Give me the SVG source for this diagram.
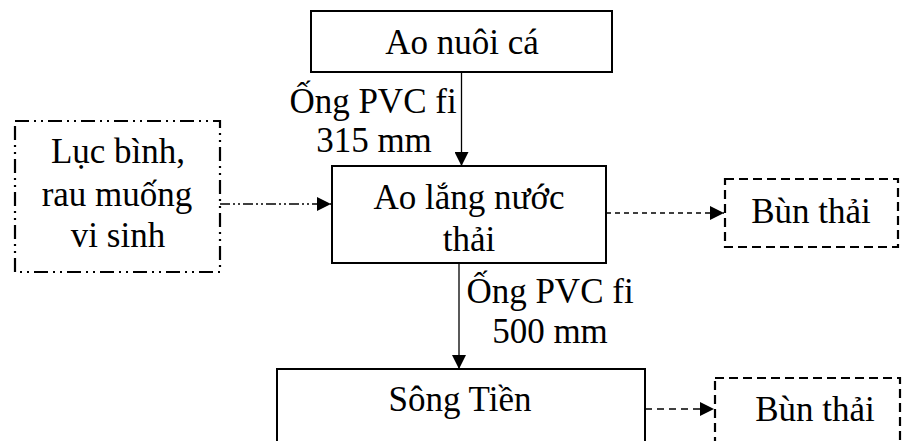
<svg xmlns="http://www.w3.org/2000/svg" width="907" height="441" viewBox="0 0 907 441">
<style>
text{font-family:'Liberation Serif','Times New Roman',serif;font-size:35px;fill:#000;text-anchor:middle}
.box{fill:#fff;stroke:#000;stroke-width:2}
.dd{fill:none;stroke:#000;stroke-width:2.2;stroke-dasharray:14 5 2 5 2 5}
.ds{fill:none;stroke:#000;stroke-width:2.2;stroke-dasharray:9 5}
.c{fill:none;stroke:#000;stroke-width:1.3}
</style>
<defs>
<marker id="ah2" viewBox="0 0 10 10" refX="10" refY="5" markerWidth="14" markerHeight="14" markerUnits="userSpaceOnUse" orient="auto">
<path d="M0,0 L10,5 L0,10 z" fill="#000"/>
</marker>
</defs>
<g id="connectors">
<line class="c" x1="461.5" y1="72" x2="461.5" y2="166" marker-end="url(#ah2)"/>
<line class="c" x1="459" y1="263" x2="459" y2="369" marker-end="url(#ah2)"/>
<line class="c" x1="220" y1="204" x2="331" y2="204" stroke-dasharray="10 3 2 3 2 3" marker-end="url(#ah2)"/>
<line class="c" x1="606" y1="213" x2="724" y2="213" stroke-dasharray="5 4" marker-end="url(#ah2)"/>
<line class="c" x1="645" y1="409" x2="714" y2="409" stroke-dasharray="7 5" marker-end="url(#ah2)"/>
<text x="373" y="113">Ống PVC fi</text>
<text x="374" y="152">315 mm</text>
<text x="550" y="303">Ống PVC fi</text>
<text x="550" y="343">500 mm</text>
</g>
<g id="ao-nuoi-ca">
<rect class="box" x="311" y="11" width="301" height="61"/>
<text x="462" y="54">Ao nuôi cá</text>
</g>
<g id="luc-binh">
<rect class="dd" x="15" y="121" width="205" height="151"/>
<text x="118" y="163">Lục bình,</text>
<text x="117" y="206">rau muống</text>
<text x="118" y="247">vi sinh</text>
</g>
<g id="ao-lang">
<rect class="box" x="332" y="166" width="274" height="97"/>
<text x="469" y="209">Ao lắng nước</text>
<text x="469" y="251">thải</text>
</g>
<g id="bun-thai-1">
<rect class="ds" x="725" y="179" width="173" height="68"/>
<text x="811" y="223">Bùn thải</text>
</g>
<g id="song-tien">
<rect class="box" x="277" y="369" width="368" height="90"/>
<text x="460" y="411">Sông Tiền</text>
</g>
<g id="bun-thai-2">
<rect class="ds" x="715" y="378" width="185" height="80"/>
<text x="815" y="421">Bùn thải</text>
</g>
</svg>
